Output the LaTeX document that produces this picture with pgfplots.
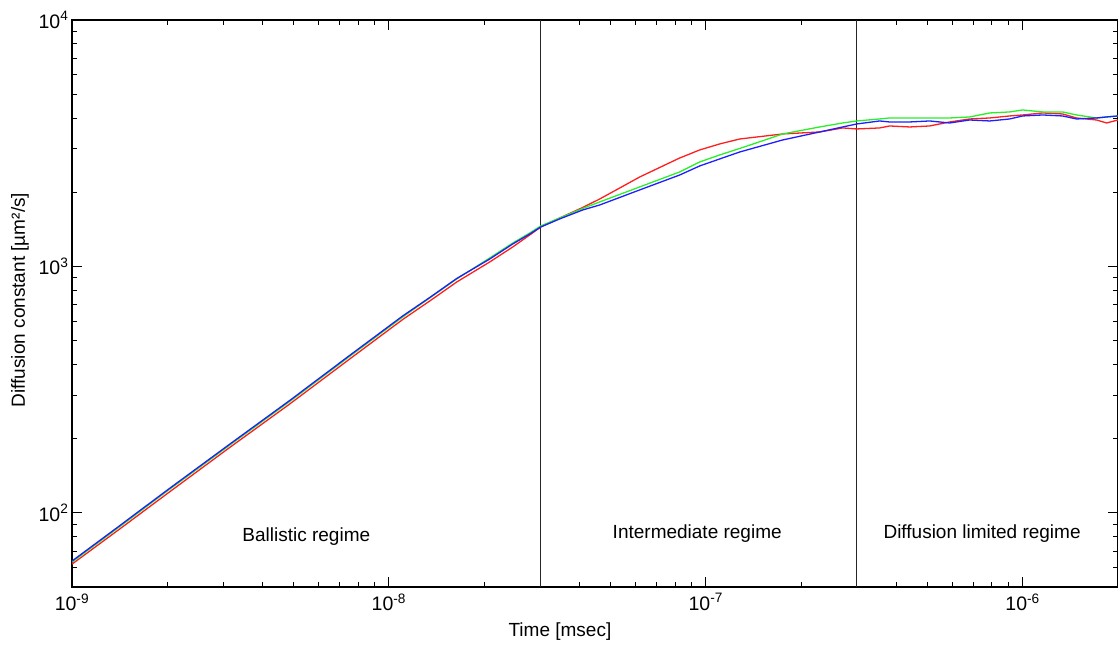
\documentclass[border=0pt]{standalone}
\usepackage{fontspec}
\setmainfont{Liberation Sans}
\usepackage{pgfplots}
\usepackage{pgfplotstable}
\pgfplotsset{compat=1.18}
\definecolor{cred}{RGB}{255,30,30}
\definecolor{cgreen}{RGB}{40,240,40}
\definecolor{cblue}{RGB}{30,30,255}
\pgfplotstableread{
x y
1e-9 61.9
1.417e-9 86.1
1.994e-9 119.4
3.151e-9 184.4
4.873e-9 276.8
7.534e-9 421.4
1.107e-8 609.5
1.347e-8 724.4
1.639e-8 865
2.083e-8 1043
2.462e-8 1200
2.785e-8 1342
3.017e-8 1446
3.463e-8 1573
4.093e-8 1735
4.630e-8 1878
6.193e-8 2307
8.279e-8 2755
9.573e-8 2969
1.107e-7 3141
1.281e-7 3290
1.750e-7 3448
2.289e-7 3513
2.705e-7 3647
2.995e-7 3613
3.539e-7 3647
3.805e-7 3715
4.400e-7 3681
5.089e-7 3715
5.885e-7 3857
6.805e-7 3966
7.870e-7 4003
9.100e-7 4079
1.0e-6 4117
1.157e-6 4195
1.337e-6 4156
1.480e-6 4003
1.711e-6 3929
1.841e-6 3821
2.0e-6 3929
}\datared
\pgfplotstableread{
x y
1e-9 63.1
1.417e-9 88.0
1.994e-9 122.3
3.151e-9 188.4
4.873e-9 283.4
7.534e-9 431.8
1.107e-8 624
1.347e-8 745
1.639e-8 890
2.083e-8 1083
2.462e-8 1245
2.785e-8 1367
3.017e-8 1460
3.463e-8 1573
4.093e-8 1719
4.630e-8 1827
6.193e-8 2102
8.279e-8 2418
9.573e-8 2654
1.107e-7 2834
1.281e-7 3011
1.750e-7 3448
2.289e-7 3681
2.705e-7 3821
2.995e-7 3893
3.539e-7 3966
3.805e-7 4003
4.400e-7 4003
5.089e-7 4003
5.885e-7 4003
6.805e-7 4041
7.870e-7 4195
9.100e-7 4235
1.0e-6 4314
1.157e-6 4235
1.337e-6 4235
1.480e-6 4117
1.711e-6 4003
1.841e-6 4041
2.0e-6 4079
}\datagreen
\pgfplotstableread{
x y
1e-9 63.7
1.417e-9 88.8
1.994e-9 123.4
3.151e-9 190.2
4.873e-9 286.1
7.534e-9 435.9
1.107e-8 630.0
1.347e-8 748.5
1.639e-8 894
2.083e-8 1072
2.462e-8 1234
2.785e-8 1354
3.017e-8 1446
3.463e-8 1559
4.093e-8 1695
4.630e-8 1776
6.193e-8 2044
8.279e-8 2350
9.573e-8 2557
1.107e-7 2730
1.281e-7 2914
1.750e-7 3260
2.289e-7 3513
2.705e-7 3681
2.995e-7 3785
3.539e-7 3893
3.805e-7 3857
4.400e-7 3857
5.089e-7 3893
5.885e-7 3821
6.805e-7 3929
7.870e-7 3893
9.100e-7 3966
1.0e-6 4079
1.157e-6 4117
1.337e-6 4079
1.480e-6 3966
1.711e-6 4003
1.841e-6 4041
2.0e-6 4079
}\datablue
\begin{document}
\begin{tikzpicture}
\begin{axis}[
  at={(72pt,59pt)}, anchor=south west,
  width=1046pt, height=567pt, scale only axis,
  xmode=log, ymode=log,
  xmin=1e-9, xmax=2e-6, ymin=50, ymax=1e4,
  xtick={1e-9,1e-8,1e-7,1e-6},
  xticklabels={10\textsuperscript{-9},10\textsuperscript{-8},10\textsuperscript{-7},10\textsuperscript{-6}},
  ytick={1e2,1e3,1e4},
  yticklabels={10\textsuperscript{2},10\textsuperscript{3},10\textsuperscript{4}},
  minor xtick={2e-9,3e-9,4e-9,5e-9,6e-9,7e-9,8e-9,9e-9,2e-8,3e-8,4e-8,5e-8,6e-8,7e-8,8e-8,9e-8,2e-7,3e-7,4e-7,5e-7,6e-7,7e-7,8e-7,9e-7},
  minor ytick={60,70,80,90,200,300,400,500,600,700,800,900,2000,3000,4000,5000,6000,7000,8000,9000},
  major tick length=10pt, minor tick length=5pt,
  tick style={black, line width=0.9pt},
  axis line style={line width=1.2pt},
  ticklabel style={font=\fontsize{19.5}{22}\selectfont},
  label style={font=\fontsize{19}{22}\selectfont},
  xticklabel style={yshift=-3pt},
  xlabel={Time [msec]}, ylabel={Diffusion constant [µm²/s]},
  xlabel style={at={(axis description cs:0.4665,-0.0794)}, anchor=center},
  ylabel style={at={(axis description cs:-0.0497,0.506)}, anchor=center},
  every axis plot/.append style={line width=1.3pt},
]
\addplot[black!85, line width=1pt, forget plot] coordinates {(3e-8,50) (3e-8,1e4)};
\addplot[black!85, line width=1pt, forget plot] coordinates {(3e-7,50) (3e-7,1e4)};
\addplot[cred, no marks] table[x=x,y=y] {\datared};
\addplot[cgreen, no marks] table[x=x,y=y] {\datagreen};
\addplot[cblue, no marks] table[x=x,y=y] {\datablue};
\node[font=\fontsize{19}{22}\selectfont] at (axis cs:5.49e-9,80) {Ballistic regime};
\node[font=\fontsize{19}{22}\selectfont] at (axis cs:9.40e-8,82.5) {Intermediate regime};
\node[font=\fontsize{19}{22}\selectfont] at (axis cs:7.45e-7,82.5) {Diffusion limited regime};
\end{axis}
\pgfresetboundingbox
\path[use as bounding box] (0,0) rectangle (1118pt,646pt);
\end{tikzpicture}
\end{document}
